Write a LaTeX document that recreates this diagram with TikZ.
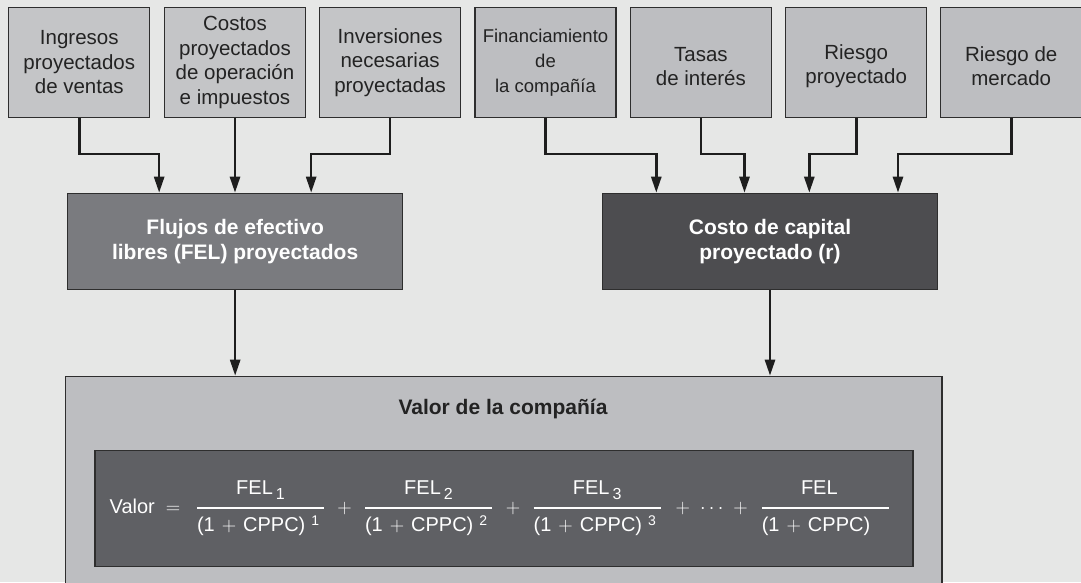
\RequirePackage{fix-cm}
\documentclass[tikz,border=0pt]{standalone}
\usepackage{fontspec}
\setmainfont{Liberation Sans}
\usepackage{amsmath}
\usetikzlibrary{arrows.meta}
\definecolor{bg}{HTML}{E6E7E6}
\definecolor{boxA}{HTML}{C4C5C7}
\definecolor{boxB}{HTML}{BDBEC1}
\definecolor{felc}{HTML}{7A7B7F}
\definecolor{cosc}{HTML}{4D4D50}
\definecolor{valc}{HTML}{BDBEC1}
\definecolor{frmc}{HTML}{5F6064}
\definecolor{bd}{HTML}{2E2E2E}
\definecolor{txt}{HTML}{232323}
\definecolor{arrc}{HTML}{1E1E1E}
\newcommand{\myfrac}[2]{$\genfrac{}{}{1.4pt}{0}{\raisebox{4.5pt}{#1}}{\raisebox{-4.5pt}{\makebox[127pt][l]{#2}}}$}
\newcommand{\subn}[1]{\hspace{3pt}\raisebox{-5pt}{\fontsize{16}{16}\selectfont #1}}
\newcommand{\supn}[1]{\hspace{6pt}\raisebox{6pt}{\fontsize{14}{14}\selectfont #1}}
\newcommand{\den}{(1\hspace{7pt}$+$\hspace{7pt}CPPC)}
\newcommand{\topstrut}{\rule{0pt}{23pt}}
\begin{document}
\begin{tikzpicture}[x=1pt,y=-1pt,
  inbox/.style={draw=bd, line width=1.2pt, minimum width=141pt, minimum height=110pt, inner sep=1pt, align=center, text=txt, font=\fontsize{20.5}{24.5}\selectfont},
  ina/.style={inbox, fill=boxA},
  inb/.style={inbox, fill=boxB},
  midbox/.style={draw=bd, line width=1.2pt, minimum width=335pt, minimum height=96.4pt, align=center, text=white, font=\bfseries\fontsize{21}{25.5}\selectfont},
  panel/.style={draw=bd, line width=1.2pt, anchor=north west, inner sep=0pt},
  arr/.style={draw=arrc, line width=2.6pt, -{Triangle[length=16pt,width=10pt]}},
  fm/.style={text=white, inner sep=0pt, font=\fontsize{20}{24}\selectfont}]
\fill[bg] (0,0) rectangle (1081,582);
\useasboundingbox (0,0) rectangle (1081,582);

% top input boxes
\node[ina] (b1) at (79.3,62.3) {Ingresos\\proyectados\\de ventas};
\node[ina] (b2) at (235,62.3) {Costos\\proyectados\\de operación\\e impuestos};
\node[ina] (b3) at (390.1,62.3) {Inversiones\\necesarias\\proyectadas};
\node[inb, font=\fontsize{18.5}{25}\selectfont] (b4) at (545.5,62.3) {Financiamiento\\de\\la compañía};
\node[inb] (b5) at (700.9,62.3) {\topstrut Tasas\\de interés};
\node[inb] (b6) at (856.2,62.3) {\topstrut Riesgo\\proyectado};
\node[inb] (b7) at (1011.2,62.3) {\topstrut Riesgo de\\mercado};

% middle boxes
\node[midbox, fill=felc] (fel) at (235.15,241.5) {Flujos de efectivo\\libres (FEL) proyectados};
\node[midbox, fill=cosc] (cc) at (770,241.5) {Costo de capital\\proyectado (r)};

% bottom panel
\node[panel, fill=valc, minimum width=876.3pt, minimum height=210pt] (val) at (65,375.7) {};
\node[panel, fill=frmc, minimum width=818pt, minimum height=116pt] (frm) at (94.3,450) {};
\node[font=\bfseries\fontsize{21}{25}\selectfont, text=txt, anchor=base, inner sep=0pt] (vt) at (503,414.5) {Valor de la compañía};

% formula
\node[fm, anchor=base west] (vl) at (109.5,513) {Valor\hspace{11pt}$=$};
\node[fm, anchor=base] (f1) at (260.5,513) {\myfrac{FEL\subn{1}}{\den\supn{1}}};
\node[fm, anchor=base] (p1) at (344.5,513) {$+$};
\node[fm, anchor=base] (f2) at (428.5,513) {\myfrac{FEL\subn{2}}{\den\supn{2}}};
\node[fm, anchor=base] (p2) at (513,513) {$+$};
\node[fm, anchor=base] (f3) at (597.2,513) {\myfrac{FEL\subn{3}}{\den\supn{3}}};
\node[fm, anchor=base] (p3) at (711.7,513) {$+\mkern6mu\cdots\mkern6mu+$};
\node[fm, anchor=base] (f4) at (825.3,513) {\myfrac{FEL\phantom{\subn{1}}}{\den}};

% connectors
\draw[arr] (b1.south) -- ++(0,36) -| ([xshift=-76pt]fel.north);
\draw[arr] (b2.south) -- (b2.south |- fel.north);
\draw[arr] (b3.south) -- ++(0,36) -| ([xshift=76pt]fel.north);
\draw[arr] (b4.south) -- ++(0,36) -| ([xshift=-113.7pt]cc.north);
\draw[arr] (b5.south) -- ++(0,36) -| ([xshift=-25.5pt]cc.north);
\draw[arr] (b6.south) -- ++(0,36) -| ([xshift=39.3pt]cc.north);
\draw[arr] (b7.south) -- ++(0,36) -| ([xshift=128pt]cc.north);
\draw[arr] (fel.south) -- (fel.south |- val.north);
\draw[arr] (cc.south) -- (cc.south |- val.north);
\end{tikzpicture}
\end{document}
